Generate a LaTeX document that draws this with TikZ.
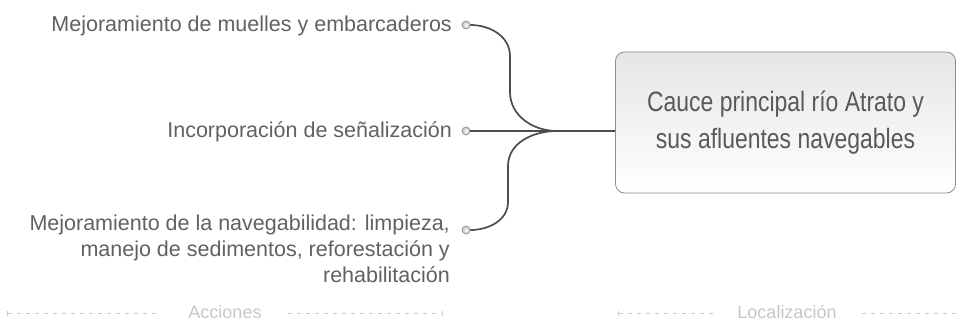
\documentclass[tikz,border=0pt]{standalone}
\usepackage{fontspec}
\setmainfont{Liberation Sans}
\newfontfamily\boxfont{Liberation Sans}[FakeStretch=0.82]
\usetikzlibrary{arrows.meta,calc}

\tikzset{
  conn/.style={draw=black!70,line width=1.7pt},
  dot/.style={circle,draw=black!40,line width=0.8pt,inner sep=0pt,minimum size=8pt,inner color=white,outer color=black!25},
  lbl/.style={text=black!62,inner sep=0pt,font=\fontsize{21.5}{26}\selectfont},
  topic/.style={draw=black!45,line width=0.8pt,rounded corners=9pt,top color=black!10,bottom color=white,
    minimum width=340pt,minimum height=141pt,align=center,text=black!65,font=\boxfont\fontsize{28}{37}\selectfont},
  lane/.style={text=black!22,inner sep=0pt,font=\fontsize{18}{22}\selectfont},
  laneline/.style={draw=black!20,line width=0.8pt,dash pattern=on 4pt off 5pt},
}

\begin{document}
\begin{tikzpicture}[x=1pt,y=-1pt]
        \useasboundingbox (0,0) rectangle (957,323);
        % central topic
        \node[topic] (loc) at (785.5,122.5) {Cauce principal río Atrato y\\sus afluentes navegables};
        % actions
        \node[dot] (d1) at (466,25) {};
        \node[dot] (d2) at (466,131) {};
        \node[dot] (d3) at (466,230) {};
        \node[lbl,anchor=base east] (t1) at (452,32) {Mejoramiento de muelles y embarcaderos};
        \node[lbl,anchor=base east] (t2) at (452,138) {Incorporación de señalización};
        \node[lbl,anchor=north east,align=right] (t3) at (450,215)
          {Mejoramiento de la navegabilidad: limpieza,\\manejo de sedimentos, reforestación y\\rehabilitación};
        \coordinate (hub) at (557,131);
        \draw[conn] (d2.east) -- (d2.east -| loc.west);
        \draw[conn] (d1.east) to[out=0,in=90] (510,56) -- (510,92) to[out=-90,in=180] (hub);
        \draw[conn] (d3.east) to[out=0,in=-90] (508,202) -- (508,166) to[out=90,in=180] (hub);
        % lanes
        \node[lane] (acc) at (225,312) {Acciones};
        \node[lane] (lz) at (787,312) {Localización};
        \draw[laneline,{Bar[width=5pt]}-] (7,313) -- (158,313);
        \draw[laneline,-{Bar[width=5pt]}] (288,313) -- (443,313);
        \draw[laneline,{Bar[width=5pt]}-] (618,313) -- (713,313);
        \draw[laneline] (862,313) -- (957,313);
\end{tikzpicture}
\end{document}
